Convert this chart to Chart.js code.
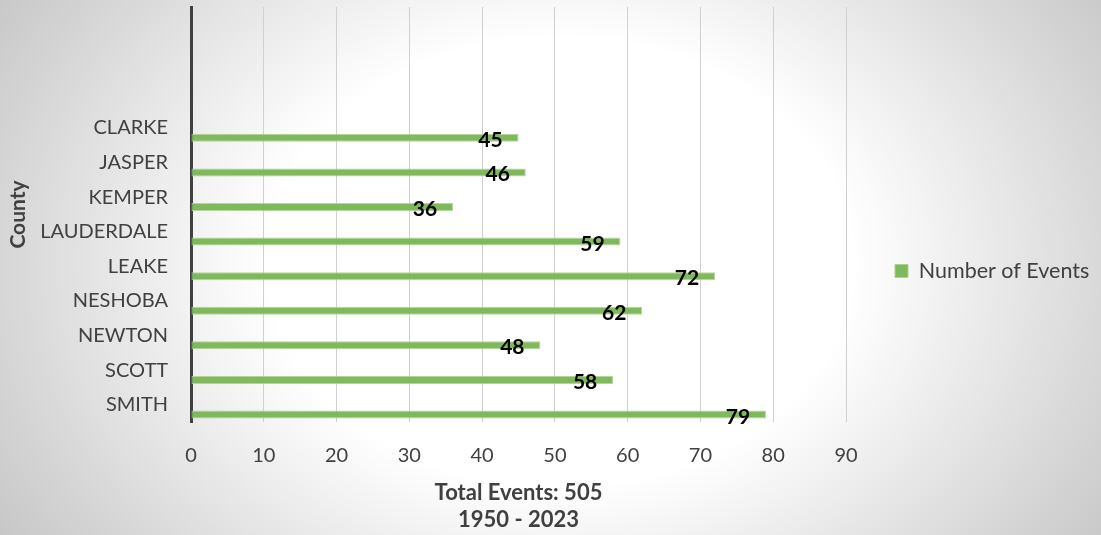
<!DOCTYPE html>
<html>
<head>
<meta charset="utf-8">
<script src="https://cdn.jsdelivr.net/npm/chart.js@4.4.0/dist/chart.umd.min.js"></script>
<style>
  html, body { margin: 0; padding: 0; }
  #wrap {
    position: relative; width: 1101px; height: 535px;
    background: radial-gradient(ellipse 560px 430px at 560px 262px,
      #ffffff 52%, #d6d6d6 100%, #c6c6c6 120%);
  }
</style>
</head>
<body>
<div id="wrap"><canvas id="chart"></canvas></div>
<script>
// ── Events per county, 1950–2023 ───────────────────────────────────────────────
const counties   = ['CLARKE', 'JASPER', 'KEMPER', 'LAUDERDALE', 'LEAKE', 'NESHOBA', 'NEWTON', 'SCOTT', 'SMITH'];
const events     = [45, 46, 36, 59, 72, 62, 48, 58, 79];
const blankRows  = 3;                       // empty category slots above CLARKE
const xTicks     = [0, 10, 20, 30, 40, 50, 60, 70, 80, 90];
const seriesName = 'Number of Events';
const xTitle     = ['Total Events: 505', '1950 - 2023'];
const yTitle     = 'County';

const FONT  = 'Lato, "Open Sans", sans-serif';
const INK   = '#404040';
const GREEN = '#7fb95b';

const labels = Array(blankRows).fill('').concat(counties);
const padded = Array(blankRows).fill(null).concat(events);
const empty  = labels.map(() => null);

// Values drawn just inside the bar end, bold black.
const valueLabels = {
  id: 'valueLabels',
  afterDatasetsDraw(chart) {
    const meta = chart.getDatasetMeta(2);
    const ctx = chart.ctx;
    ctx.save();
    ctx.font = `bold 21px ${FONT}`;
    ctx.fillStyle = '#000';
    ctx.textAlign = 'center';
    ctx.textBaseline = 'alphabetic';
    meta.data.forEach((bar, i) => {
      const v = padded[i];
      if (v == null) return;
      ctx.fillText(String(v), bar.x - 28, bar.y + 9);
    });
    ctx.restore();
  }
};

new Chart(document.getElementById('chart'), {
  type: 'bar',
  data: {
    labels,
    // two empty series keep the visible bar in the lower slot of each band
    datasets: [
      { label: '', data: empty },
      { label: '', data: empty },
      {
        label: seriesName, data: padded,
        backgroundColor: GREEN, borderColor: 'rgba(170,210,145,0.9)', borderWidth: 1,
        borderSkipped: false
      }
    ]
  },
  options: {
    indexAxis: 'y',
    responsive: true,
    maintainAspectRatio: false,
    animation: false,
    categoryPercentage: 0.85,
    barPercentage: 0.82,
    layout: { padding: { top: 7, right: 0, bottom: 0, left: 0 } },
    plugins: {
      tooltip: { enabled: false },
      legend: {
        position: 'right',
        labels: {
          filter: item => item.text === seriesName,
          color: INK, boxWidth: 13, boxHeight: 13, padding: 49,
          font: { family: FONT, size: 21.5 }
        }
      }
    },
    scales: {
      x: {
        min: 0, max: 90,
        afterBuildTicks: s => { s.ticks = xTicks.map(v => ({ value: v })); },
        afterFit: s => { s.height = 113; s.paddingRight = 255; },
        grid: { color: '#d0d0d0', drawTicks: false },
        border: { display: false },
        ticks: { color: INK, padding: 22, font: { family: FONT, size: 20 } },
        title: {
          display: true, text: xTitle, color: INK,
          font: { family: FONT, size: 22, weight: 'bold', lineHeight: 1.23 },
          padding: { top: 0, bottom: 2 }
        }
      },
      y: {
        afterFit: s => { s.width = 191; s.paddingTop = 0; s.paddingBottom = 0; },
        grid: { display: false, drawTicks: false },
        border: { display: true, color: INK, width: 3 },
        ticks: { color: INK, padding: 23, autoSkip: false, font: { family: FONT, size: 20 } },
        title: {
          display: true, text: yTitle, color: INK,
          font: { family: FONT, size: 21, weight: 'bold', lineHeight: 1.2 },
          padding: { top: 6, bottom: 0 }
        }
      }
    }
  },
  plugins: [valueLabels]
});
</script>
</body>
</html>
